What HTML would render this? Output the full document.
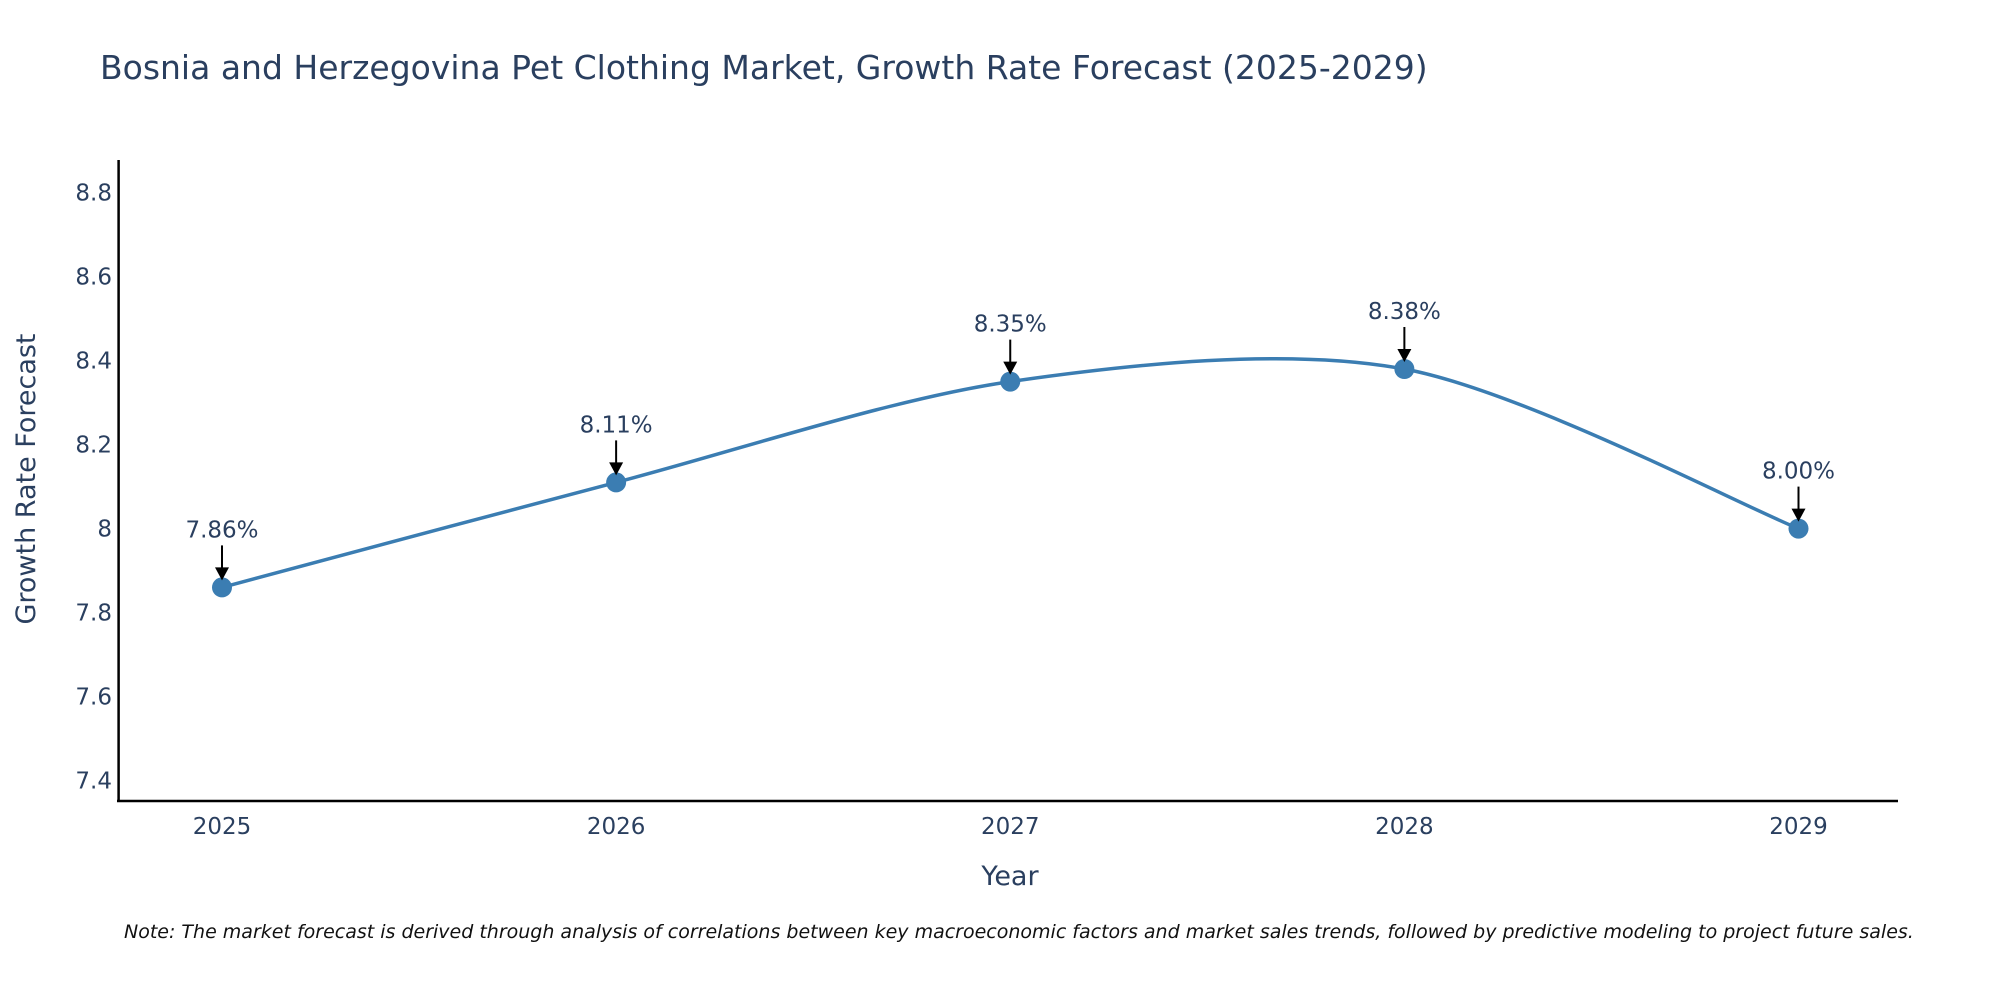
<!DOCTYPE html>
<html><head><meta charset="utf-8"><style>
body{margin:0;background:#fff;}
svg{display:block;font-family:"DejaVu Sans","Liberation Sans",sans-serif;}
</style></head><body>
<svg id="chart" width="2000" height="1000" viewBox="0 0 2000 1000" xmlns="http://www.w3.org/2000/svg">
<text x="100" y="79" font-size="33" fill="#2a3f5f">Bosnia and Herzegovina Pet Clothing Market, Growth Rate Forecast (2025-2029)</text>
<g id="axes"></g>
<g id="series"></g>
<text transform="translate(35,479) rotate(-90)" text-anchor="middle" font-size="27" fill="#2a3f5f">Growth Rate Forecast</text>
<text x="1010" y="885" text-anchor="middle" font-size="27" fill="#2a3f5f">Year</text>
<text x="124" y="938" font-size="19" font-style="italic" fill="#111">Note: The market forecast is derived through analysis of correlations between key macroeconomic factors and market sales trends, followed by predictive modeling to project future sales.</text>
</svg>
<script>
const years = [2025, 2026, 2027, 2028, 2029];
const values = [7.86, 8.11, 8.35, 8.38, 8.00];
const labels = ["7.86%", "8.11%", "8.35%", "8.38%", "8.00%"];
const yTicks = [7.4, 7.6, 7.8, 8, 8.2, 8.4, 8.6, 8.8];
const NS = "http://www.w3.org/2000/svg";
const xS = v => 222 + (v - 2025) * (1798.5 - 222) / 4;
const yS = v => 780.6 - (v - 7.4) * (780.6 - 192.6) / 1.4;
function mk(tag, attrs, parent, text) {
  const e = document.createElementNS(NS, tag);
  for (const k in attrs) e.setAttribute(k, attrs[k]);
  if (text !== undefined) e.textContent = text;
  parent.appendChild(e); return e;
}
const axes = document.getElementById('axes');
const series = document.getElementById('series');
let l = mk('line', {x1:118.6, y1:160, x2:118.6, y2:802, stroke:'#000', 'stroke-width':2.5}, axes);


l = mk('line', {x1:117, y1:801, x2:1898, y2:801, stroke:'#000', 'stroke-width':2.5}, axes);


yTicks.forEach(t => {
  const e = mk('text', {x:112, y:yS(t)+8, 'text-anchor':'end', 'font-size':23, fill:'#2a3f5f'}, axes, String(t));
  
  
});
years.forEach(y => {
  const e = mk('text', {x:xS(y), y:834, 'text-anchor':'middle', 'font-size':23, fill:'#2a3f5f'}, axes, String(y));
  
  
});
const pts = years.map((y, i) => [xS(y), yS(values[i])]);
let d = `M${pts[0][0]},${pts[0][1]}`;
const s = 0.15;
for (let i = 0; i < pts.length - 1; i++) {
  const p0 = pts[Math.max(i-1,0)], p1 = pts[i], p2 = pts[i+1], p3 = pts[Math.min(i+2,pts.length-1)];
  const c1 = [p1[0] + (p2[0]-p0[0])*s, p1[1] + (p2[1]-p0[1])*s];
  const c2 = [p2[0] - (p3[0]-p1[0])*s, p2[1] - (p3[1]-p1[1])*s];
  d += ` C${c1[0]},${c1[1]} ${c2[0]},${c2[1]} ${p2[0]},${p2[1]}`;
}
const path = mk('path', {d:d, fill:'none', stroke:'#3b7db2', 'stroke-width':3.5}, series);


pts.forEach((p, i) => {
  const c = mk('circle', {cx:p[0], cy:p[1], r:10, fill:'#3b7db2'}, series);
  
  
  const a = mk('line', {x1:p[0], y1:p[1]-42, x2:p[0], y2:p[1]-18, stroke:'#000', 'stroke-width':2}, series);
  
  
  const h = mk('path', {d:`M${p[0]-7},${p[1]-20} L${p[0]+7},${p[1]-20} L${p[0]},${p[1]-7} Z`, fill:'#000'}, series);
  
  
  const t = mk('text', {x:p[0], y:p[1]-50, 'text-anchor':'middle', 'font-size':23, fill:'#2a3f5f'}, series, labels[i]);
  
  
});
</script>
</body></html>
